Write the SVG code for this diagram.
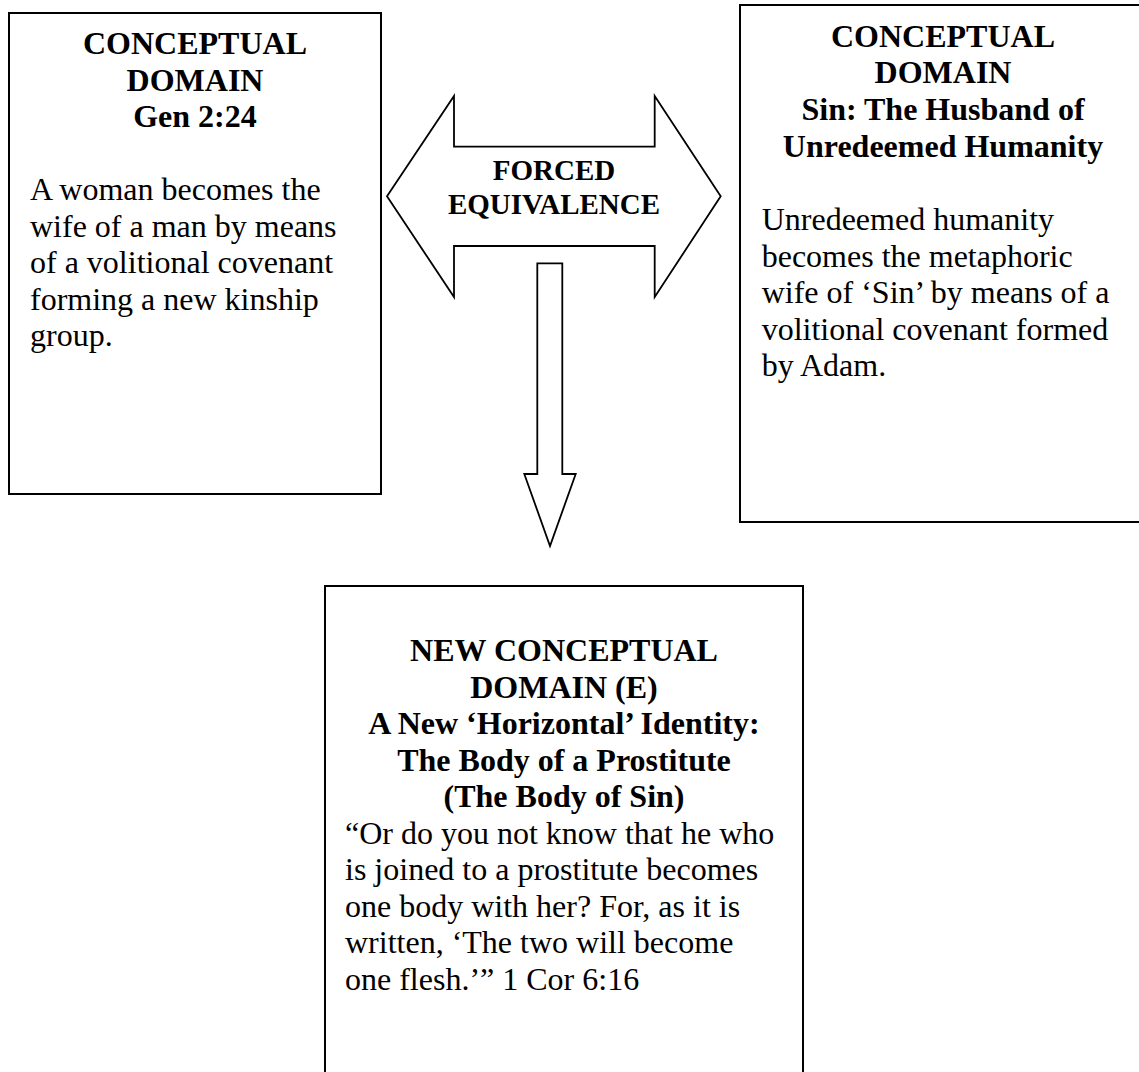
<svg xmlns="http://www.w3.org/2000/svg" width="1139" height="1072" viewBox="0 0 1139 1072">
<style>
.box{fill:#fff;stroke:#000;stroke-width:2}
.arr{fill:#fff;stroke:#000;stroke-width:1.8;stroke-linejoin:miter}
text{font-family:"Liberation Serif","Times New Roman",serif;font-size:32px;fill:#000}
.h{font-weight:bold;text-anchor:middle}
.a{font-weight:bold;text-anchor:middle;font-size:29px}
</style>
<rect width="1139" height="1072" fill="#fff"/>
<g id="connectors">
<g id="forced-equivalence">
<path class="arr" d="M387,196.3 L454,96 L454,146.7 L654.7,146.7 L654.7,96 L720.7,196.3 L654.7,297 L654.7,246 L454,246 L454,297 Z"/>
<text class="a" x="554" y="180">FORCED</text>
<text class="a" x="554" y="214">EQUIVALENCE</text>
</g>
<path id="down-arrow" class="arr" d="M537.3,263.3 L562.3,263.3 L562.3,474 L575.7,474 L550,546 L524.3,474 L537.3,474 Z"/>
</g>
<g id="left-domain">
<rect class="box" x="9" y="13" width="372" height="481"/>
<text class="h" x="195" y="54">CONCEPTUAL</text>
<text class="h" x="195" y="90.6">DOMAIN</text>
<text class="h" x="195" y="127.2">Gen 2:24</text>
<text x="30" y="200">A woman becomes the</text>
<text x="30" y="236.6">wife of a man by means</text>
<text x="30" y="273.2">of a volitional covenant</text>
<text x="30" y="309.8">forming a new kinship</text>
<text x="30" y="346.4">group.</text>
</g>
<g id="right-domain">
<rect class="box" x="740" y="5" width="412" height="517"/>
<text class="h" x="943" y="46.7">CONCEPTUAL</text>
<text class="h" x="943" y="83.3">DOMAIN</text>
<text class="h" x="943" y="119.9">Sin: The Husband of</text>
<text class="h" x="943" y="156.5">Unredeemed Humanity</text>
<text x="761.7" y="230">Unredeemed humanity</text>
<text x="761.7" y="266.6">becomes the metaphoric</text>
<text x="761.7" y="303.2">wife of ‘Sin’ by means of a</text>
<text x="761.7" y="339.8">volitional covenant formed</text>
<text x="761.7" y="376.4">by Adam.</text>
</g>
<g id="new-domain">
<rect class="box" x="325" y="586" width="478" height="500"/>
<text class="h" x="564" y="661">NEW CONCEPTUAL</text>
<text class="h" x="564" y="697.5">DOMAIN (E)</text>
<text class="h" x="564" y="734">A New ‘Horizontal’ Identity:</text>
<text class="h" x="564" y="770.5">The Body of a Prostitute</text>
<text class="h" x="564" y="807">(The Body of Sin)</text>
<text x="345" y="843.5">“Or do you not know that he who</text>
<text x="345" y="880">is joined to a prostitute becomes</text>
<text x="345" y="916.5">one body with her? For, as it is</text>
<text x="345" y="953">written, ‘The two will become</text>
<text x="345" y="989.5">one flesh.’” 1 Cor 6:16</text>
</g>
</svg>
